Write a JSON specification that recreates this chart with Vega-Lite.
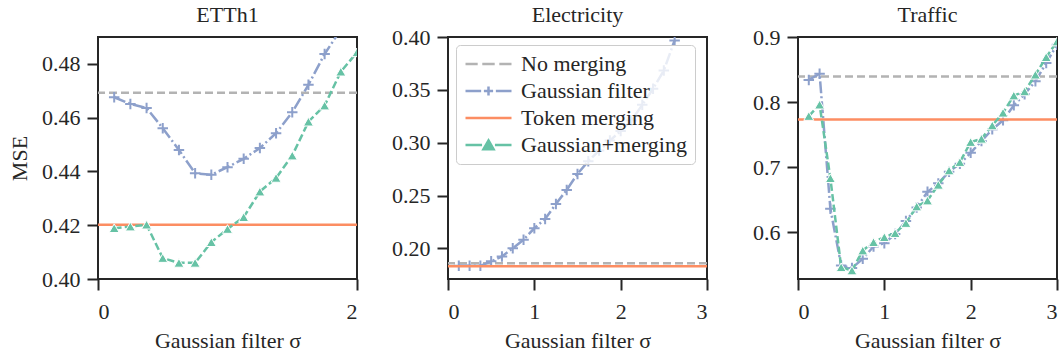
{
  "$schema": "https://vega.github.io/schema/vega-lite/v6.json",
  "background": "white",
  "padding": {"left": 7, "top": 3, "right": 5, "bottom": 0},
  "config": {
    "font": "Liberation Serif",
    "view": {"stroke": "#262626", "strokeWidth": 2},
    "axis": {"domain": false, "grid": false, "tickColor": "#262626", "tickWidth": 2, "tickSize": 11, "labelFont": "Liberation Serif", "labelFontSize": 22, "labelColor": "#262626", "labelPadding": 7, "titleFont": "Liberation Serif", "titleFontSize": 22, "titleFontWeight": "normal", "titleColor": "#262626"},
    "axisX": {"labelPadding": 11},
    "title": {"font": "Liberation Serif", "fontSize": 22, "fontWeight": "normal", "color": "#262626", "offset": 10}
  },
  "datasets": {
    "baselines": [
      {"dataset": "ETTh1", "series": "No merging", "mse": 0.4693},
      {"dataset": "ETTh1", "series": "Token merging", "mse": 0.4202},
      {"dataset": "Electricity", "series": "No merging", "mse": 0.1858},
      {"dataset": "Electricity", "series": "Token merging", "mse": 0.1830},
      {"dataset": "Traffic", "series": "No merging", "mse": 0.8394},
      {"dataset": "Traffic", "series": "Token merging", "mse": 0.7733}
    ],
    "curves": [
      {"dataset": "ETTh1", "series": "Gaussian filter", "sigma": 0.125, "mse": 0.4676},
      {"dataset": "ETTh1", "series": "Gaussian filter", "sigma": 0.25, "mse": 0.4651},
      {"dataset": "ETTh1", "series": "Gaussian filter", "sigma": 0.375, "mse": 0.4636},
      {"dataset": "ETTh1", "series": "Gaussian filter", "sigma": 0.5, "mse": 0.4561},
      {"dataset": "ETTh1", "series": "Gaussian filter", "sigma": 0.625, "mse": 0.4480},
      {"dataset": "ETTh1", "series": "Gaussian filter", "sigma": 0.75, "mse": 0.4393},
      {"dataset": "ETTh1", "series": "Gaussian filter", "sigma": 0.875, "mse": 0.4388},
      {"dataset": "ETTh1", "series": "Gaussian filter", "sigma": 1.0, "mse": 0.4416},
      {"dataset": "ETTh1", "series": "Gaussian filter", "sigma": 1.125, "mse": 0.4447},
      {"dataset": "ETTh1", "series": "Gaussian filter", "sigma": 1.25, "mse": 0.4487},
      {"dataset": "ETTh1", "series": "Gaussian filter", "sigma": 1.375, "mse": 0.4542},
      {"dataset": "ETTh1", "series": "Gaussian filter", "sigma": 1.5, "mse": 0.4620},
      {"dataset": "ETTh1", "series": "Gaussian filter", "sigma": 1.625, "mse": 0.4722},
      {"dataset": "ETTh1", "series": "Gaussian filter", "sigma": 1.75, "mse": 0.4837},
      {"dataset": "ETTh1", "series": "Gaussian filter", "sigma": 1.875, "mse": 0.4928},
      {"dataset": "ETTh1", "series": "Gaussian+merging", "sigma": 0.125, "mse": 0.4189},
      {"dataset": "ETTh1", "series": "Gaussian+merging", "sigma": 0.25, "mse": 0.4195},
      {"dataset": "ETTh1", "series": "Gaussian+merging", "sigma": 0.375, "mse": 0.4202},
      {"dataset": "ETTh1", "series": "Gaussian+merging", "sigma": 0.5, "mse": 0.4078},
      {"dataset": "ETTh1", "series": "Gaussian+merging", "sigma": 0.625, "mse": 0.4060},
      {"dataset": "ETTh1", "series": "Gaussian+merging", "sigma": 0.75, "mse": 0.4060},
      {"dataset": "ETTh1", "series": "Gaussian+merging", "sigma": 0.875, "mse": 0.4137},
      {"dataset": "ETTh1", "series": "Gaussian+merging", "sigma": 1.0, "mse": 0.4186},
      {"dataset": "ETTh1", "series": "Gaussian+merging", "sigma": 1.125, "mse": 0.4230},
      {"dataset": "ETTh1", "series": "Gaussian+merging", "sigma": 1.25, "mse": 0.4325},
      {"dataset": "ETTh1", "series": "Gaussian+merging", "sigma": 1.375, "mse": 0.4376},
      {"dataset": "ETTh1", "series": "Gaussian+merging", "sigma": 1.5, "mse": 0.4459},
      {"dataset": "ETTh1", "series": "Gaussian+merging", "sigma": 1.625, "mse": 0.4585},
      {"dataset": "ETTh1", "series": "Gaussian+merging", "sigma": 1.75, "mse": 0.4645},
      {"dataset": "ETTh1", "series": "Gaussian+merging", "sigma": 1.875, "mse": 0.4771},
      {"dataset": "ETTh1", "series": "Gaussian+merging", "sigma": 2.0, "mse": 0.4843},
      {"dataset": "Electricity", "series": "Gaussian filter", "sigma": 0.125, "mse": 0.1835},
      {"dataset": "Electricity", "series": "Gaussian filter", "sigma": 0.25, "mse": 0.1835},
      {"dataset": "Electricity", "series": "Gaussian filter", "sigma": 0.375, "mse": 0.1835},
      {"dataset": "Electricity", "series": "Gaussian filter", "sigma": 0.5, "mse": 0.1877},
      {"dataset": "Electricity", "series": "Gaussian filter", "sigma": 0.625, "mse": 0.1924},
      {"dataset": "Electricity", "series": "Gaussian filter", "sigma": 0.75, "mse": 0.2000},
      {"dataset": "Electricity", "series": "Gaussian filter", "sigma": 0.875, "mse": 0.2082},
      {"dataset": "Electricity", "series": "Gaussian filter", "sigma": 1.0, "mse": 0.2190},
      {"dataset": "Electricity", "series": "Gaussian filter", "sigma": 1.125, "mse": 0.2278},
      {"dataset": "Electricity", "series": "Gaussian filter", "sigma": 1.25, "mse": 0.2420},
      {"dataset": "Electricity", "series": "Gaussian filter", "sigma": 1.375, "mse": 0.2553},
      {"dataset": "Electricity", "series": "Gaussian filter", "sigma": 1.5, "mse": 0.2704},
      {"dataset": "Electricity", "series": "Gaussian filter", "sigma": 1.625, "mse": 0.2825},
      {"dataset": "Electricity", "series": "Gaussian filter", "sigma": 1.75, "mse": 0.2925},
      {"dataset": "Electricity", "series": "Gaussian filter", "sigma": 1.875, "mse": 0.3020},
      {"dataset": "Electricity", "series": "Gaussian filter", "sigma": 2.0, "mse": 0.3110},
      {"dataset": "Electricity", "series": "Gaussian filter", "sigma": 2.125, "mse": 0.3210},
      {"dataset": "Electricity", "series": "Gaussian filter", "sigma": 2.25, "mse": 0.3358},
      {"dataset": "Electricity", "series": "Gaussian filter", "sigma": 2.375, "mse": 0.3510},
      {"dataset": "Electricity", "series": "Gaussian filter", "sigma": 2.5, "mse": 0.3684},
      {"dataset": "Electricity", "series": "Gaussian filter", "sigma": 2.625, "mse": 0.3968},
      {"dataset": "Traffic", "series": "Gaussian filter", "sigma": 0.125, "mse": 0.834},
      {"dataset": "Traffic", "series": "Gaussian filter", "sigma": 0.25, "mse": 0.8435},
      {"dataset": "Traffic", "series": "Gaussian filter", "sigma": 0.375, "mse": 0.636},
      {"dataset": "Traffic", "series": "Gaussian filter", "sigma": 0.5, "mse": 0.5486},
      {"dataset": "Traffic", "series": "Gaussian filter", "sigma": 0.625, "mse": 0.545},
      {"dataset": "Traffic", "series": "Gaussian filter", "sigma": 0.75, "mse": 0.559},
      {"dataset": "Traffic", "series": "Gaussian filter", "sigma": 0.875, "mse": 0.578},
      {"dataset": "Traffic", "series": "Gaussian filter", "sigma": 1.0, "mse": 0.583},
      {"dataset": "Traffic", "series": "Gaussian filter", "sigma": 1.125, "mse": 0.597},
      {"dataset": "Traffic", "series": "Gaussian filter", "sigma": 1.25, "mse": 0.617},
      {"dataset": "Traffic", "series": "Gaussian filter", "sigma": 1.375, "mse": 0.638},
      {"dataset": "Traffic", "series": "Gaussian filter", "sigma": 1.5, "mse": 0.662},
      {"dataset": "Traffic", "series": "Gaussian filter", "sigma": 1.625, "mse": 0.675},
      {"dataset": "Traffic", "series": "Gaussian filter", "sigma": 1.75, "mse": 0.693},
      {"dataset": "Traffic", "series": "Gaussian filter", "sigma": 1.875, "mse": 0.705},
      {"dataset": "Traffic", "series": "Gaussian filter", "sigma": 2.0, "mse": 0.722},
      {"dataset": "Traffic", "series": "Gaussian filter", "sigma": 2.125, "mse": 0.740},
      {"dataset": "Traffic", "series": "Gaussian filter", "sigma": 2.25, "mse": 0.758},
      {"dataset": "Traffic", "series": "Gaussian filter", "sigma": 2.375, "mse": 0.772},
      {"dataset": "Traffic", "series": "Gaussian filter", "sigma": 2.5, "mse": 0.795},
      {"dataset": "Traffic", "series": "Gaussian filter", "sigma": 2.625, "mse": 0.812},
      {"dataset": "Traffic", "series": "Gaussian filter", "sigma": 2.75, "mse": 0.832},
      {"dataset": "Traffic", "series": "Gaussian filter", "sigma": 2.875, "mse": 0.860},
      {"dataset": "Traffic", "series": "Gaussian filter", "sigma": 3.0, "mse": 0.888},
      {"dataset": "Traffic", "series": "Gaussian+merging", "sigma": 0.125, "mse": 0.7785},
      {"dataset": "Traffic", "series": "Gaussian+merging", "sigma": 0.25, "mse": 0.796},
      {"dataset": "Traffic", "series": "Gaussian+merging", "sigma": 0.375, "mse": 0.683},
      {"dataset": "Traffic", "series": "Gaussian+merging", "sigma": 0.5, "mse": 0.546},
      {"dataset": "Traffic", "series": "Gaussian+merging", "sigma": 0.625, "mse": 0.541},
      {"dataset": "Traffic", "series": "Gaussian+merging", "sigma": 0.75, "mse": 0.5717},
      {"dataset": "Traffic", "series": "Gaussian+merging", "sigma": 0.875, "mse": 0.5846},
      {"dataset": "Traffic", "series": "Gaussian+merging", "sigma": 1.0, "mse": 0.5923},
      {"dataset": "Traffic", "series": "Gaussian+merging", "sigma": 1.125, "mse": 0.5985},
      {"dataset": "Traffic", "series": "Gaussian+merging", "sigma": 1.25, "mse": 0.614},
      {"dataset": "Traffic", "series": "Gaussian+merging", "sigma": 1.375, "mse": 0.6394},
      {"dataset": "Traffic", "series": "Gaussian+merging", "sigma": 1.5, "mse": 0.6486},
      {"dataset": "Traffic", "series": "Gaussian+merging", "sigma": 1.625, "mse": 0.6727},
      {"dataset": "Traffic", "series": "Gaussian+merging", "sigma": 1.75, "mse": 0.6948},
      {"dataset": "Traffic", "series": "Gaussian+merging", "sigma": 1.875, "mse": 0.7077},
      {"dataset": "Traffic", "series": "Gaussian+merging", "sigma": 2.0, "mse": 0.7385},
      {"dataset": "Traffic", "series": "Gaussian+merging", "sigma": 2.125, "mse": 0.7435},
      {"dataset": "Traffic", "series": "Gaussian+merging", "sigma": 2.25, "mse": 0.764},
      {"dataset": "Traffic", "series": "Gaussian+merging", "sigma": 2.375, "mse": 0.7835},
      {"dataset": "Traffic", "series": "Gaussian+merging", "sigma": 2.5, "mse": 0.810},
      {"dataset": "Traffic", "series": "Gaussian+merging", "sigma": 2.625, "mse": 0.8163},
      {"dataset": "Traffic", "series": "Gaussian+merging", "sigma": 2.75, "mse": 0.842},
      {"dataset": "Traffic", "series": "Gaussian+merging", "sigma": 2.875, "mse": 0.869},
      {"dataset": "Traffic", "series": "Gaussian+merging", "sigma": 3.0, "mse": 0.893}
    ],
    "legendrows": [
      {"series": "No merging", "sigma": -1, "mse": 0.3},
      {"series": "Gaussian filter", "sigma": -1, "mse": 0.3},
      {"series": "Token merging", "sigma": -1, "mse": 0.3},
      {"series": "Gaussian+merging", "sigma": -1, "mse": 0.3}
    ]
  },
  "spacing": 91,
  "bounds": "flush",
  "resolve": {"legend": {"shape": "independent", "fill": "independent", "stroke": "independent"}},
  "hconcat": [
    {
      "width": 259, "height": 242,
      "title": {"text": "ETTh1", "offset": 10},
      "layer": [
        {"data": {"name": "baselines"}, "transform": [{"filter": "datum.dataset === 'ETTh1' && datum.series === 'No merging'"}],
         "mark": {"type": "rule", "stroke": "#b3b3b3", "strokeWidth": 2.5, "strokeDash": [8, 4]},
         "encoding": {"y": {"field": "mse", "type": "quantitative", "scale": {"domain": [0.40, 0.49], "nice": false, "zero": false}, "axis": {"values": [0.40, 0.42, 0.44, 0.46, 0.48], "format": ".2f", "title": "MSE", "titlePadding": 10}}}},
        {"data": {"name": "curves"}, "transform": [{"filter": "datum.dataset === 'ETTh1' && datum.series === 'Gaussian filter'"}],
         "mark": {"type": "line", "stroke": "#8da0cb", "strokeWidth": 2.5, "strokeDash": [12, 3, 2, 3], "clip": true},
         "encoding": {"x": {"field": "sigma", "type": "quantitative", "scale": {"domain": [0, 2], "nice": false}, "axis": {"values": [0, 1, 2], "format": "d", "title": "Gaussian filter σ", "titlePadding": 8}},
                      "y": {"field": "mse", "type": "quantitative", "scale": {"domain": [0.40, 0.49], "nice": false, "zero": false}, "axis": {"values": [0.40, 0.42, 0.44, 0.46, 0.48], "format": ".2f", "title": "MSE", "titlePadding": 10}}}},
        {"data": {"name": "curves"}, "transform": [{"filter": "datum.dataset === 'ETTh1' && datum.series === 'Gaussian filter'"}],
         "mark": {"type": "point", "shape": "M-1,0L1,0M0,-1L0,1", "filled": false, "stroke": "#8da0cb", "strokeWidth": 2, "size": 110, "opacity": 1, "clip": true},
         "encoding": {"x": {"field": "sigma", "type": "quantitative"}, "y": {"field": "mse", "type": "quantitative"}}},
        {"data": {"name": "baselines"}, "transform": [{"filter": "datum.dataset === 'ETTh1' && datum.series === 'Token merging'"}],
         "mark": {"type": "rule", "stroke": "#fc8d62", "strokeWidth": 2.5},
         "encoding": {"y": {"field": "mse", "type": "quantitative"}}},
        {"data": {"name": "curves"}, "transform": [{"filter": "datum.dataset === 'ETTh1' && datum.series === 'Gaussian+merging'"}],
         "mark": {"type": "line", "stroke": "#66c2a5", "strokeWidth": 2.5, "strokeDash": [7.4, 3.2], "clip": true},
         "encoding": {"x": {"field": "sigma", "type": "quantitative"}, "y": {"field": "mse", "type": "quantitative"}}},
        {"data": {"name": "curves"}, "transform": [{"filter": "datum.dataset === 'ETTh1' && datum.series === 'Gaussian+merging'"}],
         "mark": {"type": "point", "shape": "triangle-up", "filled": true, "fill": "#66c2a5", "stroke": "white", "strokeWidth": 1, "size": 100, "opacity": 1, "clip": true},
         "encoding": {"x": {"field": "sigma", "type": "quantitative"}, "y": {"field": "mse", "type": "quantitative"}}}
      ]
    },
    {
      "width": 259, "height": 242,
      "title": {"text": "Electricity", "offset": -1},
      "layer": [
        {"data": {"name": "baselines"}, "transform": [{"filter": "datum.dataset === 'Electricity' && datum.series === 'No merging'"}],
         "mark": {"type": "rule", "stroke": "#b3b3b3", "strokeWidth": 2.5, "strokeDash": [8, 4]},
         "encoding": {"y": {"field": "mse", "type": "quantitative", "scale": {"domain": [0.171, 0.40], "nice": false, "zero": false}, "axis": {"values": [0.20, 0.25, 0.30, 0.35, 0.40], "format": ".2f", "title": null}}}},
        {"data": {"name": "curves"}, "transform": [{"filter": "datum.dataset === 'Electricity' && datum.series === 'Gaussian filter'"}],
         "mark": {"type": "line", "stroke": "#8da0cb", "strokeWidth": 2.5, "strokeDash": [12, 3, 2, 3], "clip": true},
         "encoding": {"x": {"field": "sigma", "type": "quantitative", "scale": {"domain": [0, 3], "nice": false}, "axis": {"values": [0, 1, 2, 3], "format": "d", "title": "Gaussian filter σ", "titlePadding": 8}},
                      "y": {"field": "mse", "type": "quantitative", "scale": {"domain": [0.171, 0.40], "nice": false, "zero": false}, "axis": {"values": [0.20, 0.25, 0.30, 0.35, 0.40], "format": ".2f", "title": null}}}},
        {"data": {"name": "curves"}, "transform": [{"filter": "datum.dataset === 'Electricity' && datum.series === 'Gaussian filter'"}],
         "mark": {"type": "point", "shape": "M-1,0L1,0M0,-1L0,1", "filled": false, "stroke": "#8da0cb", "strokeWidth": 2, "size": 110, "opacity": 1, "clip": true},
         "encoding": {"x": {"field": "sigma", "type": "quantitative"}, "y": {"field": "mse", "type": "quantitative"}}},
        {"data": {"name": "baselines"}, "transform": [{"filter": "datum.dataset === 'Electricity' && datum.series === 'Token merging'"}],
         "mark": {"type": "rule", "stroke": "#fc8d62", "strokeWidth": 2.5},
         "encoding": {"y": {"field": "mse", "type": "quantitative"}}},
        {"data": {"name": "legendrows"},
         "mark": {"type": "point", "filled": true, "size": 2116, "strokeWidth": 2.5, "opacity": 1, "clip": true},
         "encoding": {
           "x": {"field": "sigma", "type": "quantitative"},
           "y": {"field": "mse", "type": "quantitative"},
           "shape": {"field": "series", "type": "nominal",
             "scale": {"domain": ["No merging", "Gaussian filter", "Token merging", "Gaussian+merging"],
                       "range": ["M-1,0L-0.47,0M-0.27,0L0.27,0M0.47,0L1,0", "M-1,0L-0.32,0M-0.2,0L0.2,0M0,-0.2L0,0.2M0.32,0L1,0", "M-1,0L1,0", "M-1,0L-0.28,0M0.28,0L1,0M0,-0.2L0.22,0.18L-0.22,0.18Z"]},
             "legend": {"orient": "top-left", "offset": 8, "title": null, "clipHeight": 22, "rowPadding": 5, "padding": 8, "symbolOffset": 0, "labelOffset": 8, "labelLimit": 400, "labelFont": "Liberation Serif", "labelFontSize": 22, "labelColor": "#262626", "fillColor": "rgba(255,255,255,0.8)", "strokeColor": "#cccccc", "cornerRadius": 4, "symbolStrokeWidth": 2.5, "symbolSize": 2116}},
           "fill": {"field": "series", "type": "nominal",
             "scale": {"domain": ["No merging", "Gaussian filter", "Token merging", "Gaussian+merging"], "range": ["#b3b3b3", "#8da0cb", "#fc8d62", "#66c2a5"]},
             "legend": {"orient": "top-left", "offset": 8, "title": null, "clipHeight": 22, "rowPadding": 5, "padding": 8, "symbolOffset": 0, "labelOffset": 8, "labelLimit": 400, "labelFont": "Liberation Serif", "labelFontSize": 22, "labelColor": "#262626", "fillColor": "rgba(255,255,255,0.8)", "strokeColor": "#cccccc", "cornerRadius": 4, "symbolStrokeWidth": 2.5, "symbolSize": 2116}},
           "stroke": {"field": "series", "type": "nominal",
             "scale": {"domain": ["No merging", "Gaussian filter", "Token merging", "Gaussian+merging"], "range": ["#b3b3b3", "#8da0cb", "#fc8d62", "#66c2a5"]},
             "legend": {"orient": "top-left", "offset": 8, "title": null, "clipHeight": 22, "rowPadding": 5, "padding": 8, "symbolOffset": 0, "labelOffset": 8, "labelLimit": 400, "labelFont": "Liberation Serif", "labelFontSize": 22, "labelColor": "#262626", "fillColor": "rgba(255,255,255,0.8)", "strokeColor": "#cccccc", "cornerRadius": 4, "symbolStrokeWidth": 2.5, "symbolSize": 2116}}
         }}
      ]
    },
    {
      "width": 259, "height": 242,
      "title": {"text": "Traffic", "offset": -1},
      "layer": [
        {"data": {"name": "baselines"}, "transform": [{"filter": "datum.dataset === 'Traffic' && datum.series === 'No merging'"}],
         "mark": {"type": "rule", "stroke": "#b3b3b3", "strokeWidth": 2.5, "strokeDash": [8, 4]},
         "encoding": {"y": {"field": "mse", "type": "quantitative", "scale": {"domain": [0.528, 0.9], "nice": false, "zero": false}, "axis": {"values": [0.6, 0.7, 0.8, 0.9], "format": ".1f", "title": null}}}},
        {"data": {"name": "curves"}, "transform": [{"filter": "datum.dataset === 'Traffic' && datum.series === 'Gaussian filter'"}],
         "mark": {"type": "line", "stroke": "#8da0cb", "strokeWidth": 2.5, "strokeDash": [12, 3, 2, 3], "clip": true},
         "encoding": {"x": {"field": "sigma", "type": "quantitative", "scale": {"domain": [0, 3], "nice": false}, "axis": {"values": [0, 1, 2, 3], "format": "d", "title": "Gaussian filter σ", "titlePadding": 8}},
                      "y": {"field": "mse", "type": "quantitative", "scale": {"domain": [0.528, 0.9], "nice": false, "zero": false}, "axis": {"values": [0.6, 0.7, 0.8, 0.9], "format": ".1f", "title": null}}}},
        {"data": {"name": "curves"}, "transform": [{"filter": "datum.dataset === 'Traffic' && datum.series === 'Gaussian filter'"}],
         "mark": {"type": "point", "shape": "M-1,0L1,0M0,-1L0,1", "filled": false, "stroke": "#8da0cb", "strokeWidth": 2, "size": 110, "opacity": 1, "clip": true},
         "encoding": {"x": {"field": "sigma", "type": "quantitative"}, "y": {"field": "mse", "type": "quantitative"}}},
        {"data": {"name": "baselines"}, "transform": [{"filter": "datum.dataset === 'Traffic' && datum.series === 'Token merging'"}],
         "mark": {"type": "rule", "stroke": "#fc8d62", "strokeWidth": 2.5},
         "encoding": {"y": {"field": "mse", "type": "quantitative"}}},
        {"data": {"name": "curves"}, "transform": [{"filter": "datum.dataset === 'Traffic' && datum.series === 'Gaussian+merging'"}],
         "mark": {"type": "line", "stroke": "#66c2a5", "strokeWidth": 2.5, "strokeDash": [7.4, 3.2], "clip": true},
         "encoding": {"x": {"field": "sigma", "type": "quantitative"}, "y": {"field": "mse", "type": "quantitative"}}},
        {"data": {"name": "curves"}, "transform": [{"filter": "datum.dataset === 'Traffic' && datum.series === 'Gaussian+merging'"}],
         "mark": {"type": "point", "shape": "triangle-up", "filled": true, "fill": "#66c2a5", "stroke": "white", "strokeWidth": 1, "size": 100, "opacity": 1, "clip": true},
         "encoding": {"x": {"field": "sigma", "type": "quantitative"}, "y": {"field": "mse", "type": "quantitative"}}}
      ]
    }
  ]
}
